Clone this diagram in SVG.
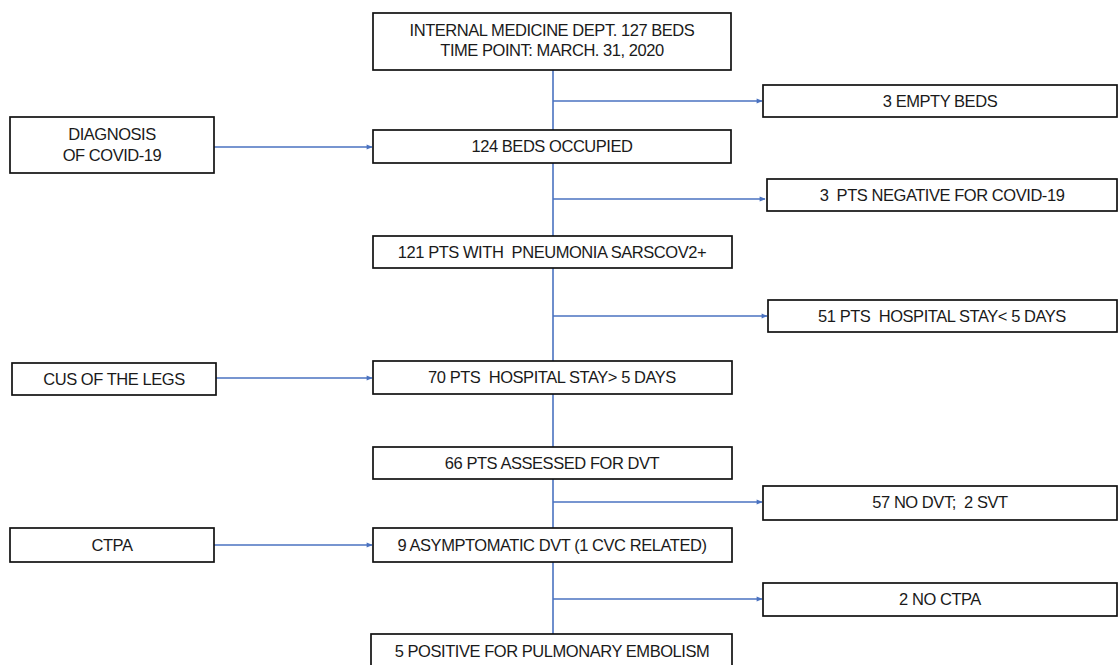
<svg xmlns="http://www.w3.org/2000/svg" width="1118" height="665" viewBox="0 0 1118 665">
<style>
.box{fill:#fff;stroke:#111;stroke-width:1.7}
.t{font-family:"Liberation Sans",Arial,sans-serif;font-size:16.5px;fill:#1a1a1a;text-anchor:middle;dominant-baseline:central;white-space:pre;letter-spacing:-0.45px}
.c{stroke:#4a72c0;stroke-width:1.6;fill:none}
</style>
<defs>
<marker id="ah" viewBox="0 0 10 10" refX="9" refY="5" markerWidth="7" markerHeight="6" orient="auto" markerUnits="userSpaceOnUse">
<path d="M0,1 L10,5 L0,9 z" fill="#4a72c0"/>
</marker>
</defs>
<rect width="1118" height="665" fill="#fff"/>
<g id="connectors">
<line class="c" x1="553" y1="70" x2="553" y2="130"/>
<line class="c" x1="553" y1="163" x2="553" y2="236"/>
<line class="c" x1="553" y1="268" x2="553" y2="361"/>
<line class="c" x1="553" y1="394" x2="553" y2="447"/>
<line class="c" x1="553" y1="479" x2="553" y2="528"/>
<line class="c" x1="553" y1="562" x2="553" y2="634"/>
<line class="c" x1="553" y1="101" x2="762" y2="101" marker-end="url(#ah)"/>
<line class="c" x1="553" y1="199" x2="765" y2="199" marker-end="url(#ah)"/>
<line class="c" x1="553" y1="316" x2="767" y2="316" marker-end="url(#ah)"/>
<line class="c" x1="553" y1="502" x2="762" y2="502" marker-end="url(#ah)"/>
<line class="c" x1="553" y1="599" x2="762" y2="599" marker-end="url(#ah)"/>
<line class="c" x1="214" y1="147" x2="372" y2="147" marker-end="url(#ah)"/>
<line class="c" x1="216" y1="378" x2="372" y2="378" marker-end="url(#ah)"/>
<line class="c" x1="214" y1="545" x2="372" y2="545" marker-end="url(#ah)"/>
</g>
<g id="n1"><rect class="box" x="373" y="13" width="358" height="57"/>
<text class="t" x="552" y="30">INTERNAL MEDICINE DEPT. 127 BEDS</text>
<text class="t" x="552" y="50">TIME POINT: MARCH. 31, 2020</text></g>
<g id="n2"><rect class="box" x="763" y="85" width="354" height="32"/>
<text class="t" x="940" y="101">3 EMPTY BEDS</text></g>
<g id="n3"><rect class="box" x="10" y="117" width="204" height="56"/>
<text class="t" x="112" y="134">DIAGNOSIS</text>
<text class="t" x="112" y="155">OF COVID-19</text></g>
<g id="n4"><rect class="box" x="373" y="130" width="358" height="33"/>
<text class="t" x="552" y="146">124 BEDS OCCUPIED</text></g>
<g id="n5"><rect class="box" x="767" y="179" width="350" height="32"/>
<text class="t" x="942" y="195">3  PTS NEGATIVE FOR COVID-19</text></g>
<g id="n6"><rect class="box" x="373" y="236" width="359" height="32"/>
<text class="t" x="552" y="252">121 PTS WITH  PNEUMONIA SARSCOV2+</text></g>
<g id="n7"><rect class="box" x="768" y="300" width="349" height="32"/>
<text class="t" x="942" y="316">51 PTS  HOSPITAL STAY&lt; 5 DAYS</text></g>
<g id="n8"><rect class="box" x="12" y="363" width="204" height="32"/>
<text class="t" x="114" y="379">CUS OF THE LEGS</text></g>
<g id="n9"><rect class="box" x="373" y="361" width="359" height="33"/>
<text class="t" x="552" y="377">70 PTS  HOSPITAL STAY&gt; 5 DAYS</text></g>
<g id="n10"><rect class="box" x="373" y="447" width="359" height="32"/>
<text class="t" x="552" y="463">66 PTS ASSESSED FOR DVT</text></g>
<g id="n11"><rect class="box" x="763" y="486" width="354" height="34"/>
<text class="t" x="940" y="502">57 NO DVT;  2 SVT</text></g>
<g id="n12"><rect class="box" x="10" y="528" width="204" height="34"/>
<text class="t" x="112" y="545">CTPA</text></g>
<g id="n13"><rect class="box" x="373" y="528" width="359" height="34"/>
<text class="t" x="552" y="545">9 ASYMPTOMATIC DVT (1 CVC RELATED)</text></g>
<g id="n14"><rect class="box" x="763" y="583" width="354" height="33"/>
<text class="t" x="940" y="599">2 NO CTPA</text></g>
<g id="n15"><rect class="box" x="371" y="634" width="361" height="40"/>
<text class="t" x="552" y="651">5 POSITIVE FOR PULMONARY EMBOLISM</text></g>
</svg>
